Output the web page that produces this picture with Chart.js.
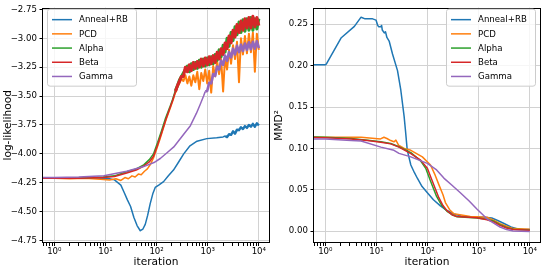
<!DOCTYPE html>
<html>
<head>
<meta charset="utf-8">
<script src="https://cdn.jsdelivr.net/npm/chart.js@4.4.0/dist/chart.umd.min.js"></script>
<style>
  body { margin: 0; background: #fff; }
  .wrap { display: flex; width: 542px; height: 270px; }
  .panel { position: relative; width: 271px; height: 270px; }
</style>
</head>
<body>
<div class="wrap">
  <div class="panel"><canvas id="llChart"></canvas></div>
  <div class="panel"><canvas id="mmdChart"></canvas></div>
</div>
<script>
const seriesNames = ['Anneal+RB', 'PCD', 'Alpha', 'Beta', 'Gamma'];
const seriesColors = ['#1f77b4', '#ff7f0e', '#2ca02c', '#d62728', '#9467bd'];

const xMajorTicks = [1, 10, 100, 1000, 10000];
const xTickLabels = ['10⁰', '10¹', '10²', '10³', '10⁴'];
const llTicks = [-4.75, -4.5, -4.25, -4, -3.75, -3.5, -3.25, -3, -2.75];
const mmdTicks = [0, 0.05, 0.1, 0.15, 0.2, 0.25];

// iterations where the log-likelihood curves turn noisy, shared by the tails below
const noisyIters = [234, 256, 280, 306, 334, 366, 400, 437, 478, 523, 572, 625, 684, 748, 818,
  894, 978, 1069, 1170, 1279, 1398, 1529, 1672, 1829, 2000, 2187, 2391, 2615, 2860, 3127,
  3420, 3740, 4090, 4472, 4890, 5348, 5848, 6395, 6993, 7647, 8362, 9145, 10000];

// log-likelihood, smooth part as [iteration, value]
const llAnnealHead = [[0.3, -4.21], [1, -4.21], [3, -4.21], [8, -4.21], [12, -4.215], [15, -4.225],
  [20, -4.27], [23, -4.33], [27, -4.40], [31, -4.455], [36, -4.55], [41.5, -4.62], [48, -4.665],
  [54, -4.65], [60, -4.61], [67, -4.53], [75, -4.43], [85, -4.34], [94, -4.29], [110, -4.27],
  [137, -4.24], [170, -4.19], [214, -4.14], [270, -4.07], [339, -4.0], [450, -3.93], [617, -3.89],
  [960, -3.868], [1500, -3.86], [2000, -3.853]];
const llPcdHead = [[0.3, -4.21], [1, -4.21], [2, -4.215], [4, -4.21], [8, -4.22], [12, -4.225],
  [16, -4.215], [20, -4.23], [24, -4.205], [28, -4.215], [33, -4.19], [38, -4.2], [44, -4.175],
  [50, -4.18], [58, -4.15], [66, -4.13], [76, -4.09], [88, -4.03], [100, -3.96], [115, -3.88],
  [135, -3.78], [160, -3.68], [190, -3.59], [215, -3.52]];
const llAlphaHead = [[0.3, -4.21], [1, -4.21], [3, -4.21], [9, -4.2], [15, -4.19], [26, -4.155],
  [40, -4.13], [56, -4.095], [72, -4.05], [87, -4.0], [105, -3.9], [125, -3.8], [150, -3.69],
  [180, -3.6], [205, -3.53]];
const llBetaHead = [[0.3, -4.21], [1, -4.21], [3, -4.21], [9, -4.205], [15, -4.195], [26, -4.165],
  [40, -4.14], [56, -4.105], [72, -4.07], [87, -4.02], [105, -3.92], [125, -3.82], [150, -3.71],
  [180, -3.61], [205, -3.54]];
const llGammaHead = [[0.3, -4.205], [1, -4.205], [3, -4.2], [9.3, -4.19], [26, -4.15], [56, -4.11],
  [89, -4.075], [118, -4.04], [160, -3.99], [217, -3.94], [300, -3.86], [458, -3.756], [600, -3.65],
  [715, -3.57], [830, -3.50]];

// log-likelihood, noisy part (values on the last noisyIters)
const llAnnealTail = [-3.845, -3.855, -3.83, -3.835, -3.805, -3.825, -3.79, -3.795, -3.77, -3.785,
  -3.76, -3.775, -3.75, -3.765, -3.74, -3.765, -3.735, -3.755];
const llPcdTail = [-3.47, -3.42, -3.39, -3.35, -3.37, -3.32, -3.39, -3.33, -3.41, -3.32, -3.38, -3.29,
  -3.44, -3.30, -3.37, -3.27, -3.39, -3.28, -3.47, -3.24, -3.33, -3.20, -3.31, -3.18, -3.46, -3.16,
  -3.27, -3.10, -3.22, -3.06, -3.18, -3.03, -3.38, -3.00, -3.14, -2.98, -3.13, -2.96, -3.12, -2.95,
  -3.29, -2.96, -3.10];
const llAlphaTail = [-3.45, -3.41, -3.36, -3.33, -3.30, -3.27, -3.24, -3.29, -3.22, -3.27, -3.21, -3.26,
  -3.19, -3.25, -3.18, -3.24, -3.17, -3.23, -3.16, -3.22, -3.14, -3.19, -3.10, -3.16, -3.06, -3.12,
  -3.00, -3.07, -2.95, -3.02, -2.90, -2.97, -2.86, -2.95, -2.84, -2.94, -2.83, -2.93, -2.82, -2.93,
  -2.83, -2.92, -2.83];
const llBetaTail = [-3.46, -3.41, -3.37, -3.33, -3.33, -3.25, -3.29, -3.23, -3.28, -3.21, -3.26, -3.20,
  -3.25, -3.18, -3.24, -3.17, -3.23, -3.16, -3.22, -3.15, -3.21, -3.12, -3.18, -3.09, -3.14, -3.04,
  -3.09, -2.98, -3.04, -2.93, -2.99, -2.88, -2.95, -2.85, -2.93, -2.83, -2.91, -2.82, -2.91, -2.81,
  -2.90, -2.82, -2.89];
const llGammaTail = [-3.46, -3.455, -3.385, -3.39, -3.31, -3.325, -3.245, -3.27, -3.195, -3.23, -3.15,
  -3.195, -3.12, -3.165, -3.09, -3.14, -3.065, -3.12, -3.055, -3.11, -3.045, -3.10, -3.035, -3.095,
  -3.03, -3.09, -3.025, -3.085];

// MMD^2 as [iteration, value]
const mmdAnneal = [[0.3, 0.201], [1.0, 0.201], [1.05, 0.202], [2.05, 0.2337], [3.7, 0.2474], [5.0, 0.2585],
  [6, 0.2565], [8.4, 0.2565], [9.8, 0.255], [10.5, 0.249], [11, 0.247], [12.2, 0.247], [12.6, 0.2485],
  [13, 0.243], [14.2, 0.2396], [15, 0.241], [16, 0.234], [17.7, 0.2297], [20.6, 0.214], [25.8, 0.194],
  [29.9, 0.1706], [34.7, 0.139], [37, 0.121], [40, 0.098], [47, 0.08], [55, 0.071], [63, 0.064],
  [78, 0.054], [99, 0.0465], [130, 0.038], [178, 0.0307], [240, 0.025], [324, 0.021], [450, 0.0185],
  [715, 0.0169], [1290, 0.0169], [1800, 0.016], [2350, 0.013], [3200, 0.009], [4270, 0.0051],
  [6000, 0.0025], [10000, 0.002]];
const mmdPcd = [[0.3, 0.1135], [1, 0.1135], [5, 0.1135], [12, 0.1115], [14, 0.1135], [16, 0.112],
  [19, 0.1095], [22, 0.108], [24, 0.11], [27, 0.104], [35, 0.1], [47, 0.0977], [79, 0.0898],
  [114, 0.08], [140, 0.068], [166, 0.0563], [200, 0.044], [223, 0.0346], [270, 0.026], [326, 0.021],
  [684, 0.0177], [1450, 0.0169], [2000, 0.013], [2620, 0.0091], [3500, 0.006], [4730, 0.0032],
  [10000, 0.0025]];
const mmdAlpha = [[0.3, 0.114], [1, 0.1135], [3.2, 0.112], [6.7, 0.110], [12.2, 0.108], [19, 0.106],
  [27.6, 0.102], [47, 0.095], [73, 0.085], [92, 0.076], [115, 0.06], [150, 0.042], [190, 0.031],
  [240, 0.024], [300, 0.02], [378, 0.0175], [920, 0.016], [1450, 0.0145], [2000, 0.012],
  [2620, 0.008], [3500, 0.0045], [4730, 0.0025], [10000, 0.0015]];
const mmdBeta = [[0.3, 0.1135], [1, 0.113], [3.2, 0.1115], [6.7, 0.1095], [12.2, 0.1076], [19, 0.1055],
  [27.6, 0.1016], [47, 0.0937], [73, 0.0859], [99, 0.076], [124, 0.0603], [166, 0.0405], [200, 0.031],
  [240, 0.0248], [300, 0.02], [378, 0.0177], [920, 0.0162], [1450, 0.0138], [2000, 0.011],
  [2620, 0.0071], [3500, 0.004], [4730, 0.002], [10000, 0.0012]];
const mmdGamma = [[0.3, 0.1115], [1, 0.1115], [3.2, 0.1095], [5, 0.109], [12.2, 0.1016], [22, 0.0977],
  [27.6, 0.094], [47, 0.0898], [99, 0.0819], [150, 0.074], [208, 0.0642], [300, 0.0555], [437, 0.0465],
  [650, 0.0365], [920, 0.0268], [1450, 0.015], [2000, 0.0095], [2620, 0.0051], [3500, 0.002],
  [4730, 0.0004], [10000, -0.0004]];

const FONT = 'DejaVu Sans';
const gridColor = '#d2d2d2';
// line width used on the noisy stretch of each series
const tailWidths = [2.4, 2.0, 3.0, 3.0, 2.6];

function toPoints(head, tail) {
  const pts = head.map(p => ({ x: p[0], y: p[1] }));
  if (tail) {
    const its = noisyIters.slice(noisyIters.length - tail.length);
    tail.forEach((v, i) => pts.push({ x: its[i], y: v }));
  }
  return pts;
}

function makeDatasets(list, tails) {
  return list.map((data, i) => {
    const tailStart = tails && tails[i] ? noisyIters[noisyIters.length - tails[i].length] : null;
    return {
      label: seriesNames[i],
      data: data,
      borderColor: seriesColors[i],
      backgroundColor: seriesColors[i],
      borderWidth: 1.5,
      borderJoinStyle: 'round',
      pointRadius: 0,
      tension: 0,
      clip: 0,
      order: 5 - i,
      segment: {
        borderWidth: c => (tailStart && c.p0.parsed.x >= tailStart ? tailWidths[i] : undefined)
      }
    };
  });
}

// box around the plot area (matplotlib spines)
const frame = {
  id: 'frame',
  afterDatasetsDraw(chart) {
    const a = chart.chartArea;
    const ctx = chart.ctx;
    ctx.save();
    ctx.strokeStyle = '#000';
    ctx.lineWidth = 1;
    ctx.strokeRect(Math.round(a.left) - 0.5, Math.round(a.top) + 0.5,
      Math.round(a.right - a.left) + 1, Math.round(a.bottom - a.top) - 1);
    ctx.restore();
  }
};

// legend drawn inside the plot area, upper left / upper right
const boxLegend = {
  id: 'boxLegend',
  afterDraw(chart, args, opts) {
    const a = chart.chartArea;
    const ctx = chart.ctx;
    const w = 89, h = 77;
    const x = opts.side === 'left' ? a.left + 4 : a.right - 5 - w;
    const y = a.top + 1;
    ctx.save();
    ctx.beginPath();
    ctx.roundRect(x + 0.5, y + 0.5, w, h, 2.5);
    ctx.fillStyle = 'rgba(255,255,255,0.8)';
    ctx.fill();
    ctx.strokeStyle = '#cccccc';
    ctx.lineWidth = 1;
    ctx.stroke();
    ctx.font = '8.6px "' + FONT + '"';
    ctx.textBaseline = 'middle';
    ctx.textAlign = 'left';
    seriesNames.forEach((name, i) => {
      const ry = y + 11 + i * 14.2;
      ctx.strokeStyle = seriesColors[i];
      ctx.lineWidth = 1.5;
      ctx.beginPath();
      ctx.moveTo(x + 5, ry);
      ctx.lineTo(x + 25, ry);
      ctx.stroke();
      ctx.fillStyle = '#000';
      ctx.fillText(name, x + 32, ry + 0.5);
    });
    ctx.restore();
  }
};

function xScale() {
  return {
    type: 'logarithmic',
    min: 0.63,
    max: 15800,
    afterBuildTicks(scale) {
      const vals = [];
      [0.1].concat(xMajorTicks).forEach(m => {
        for (let k = 1; k < 10; k++) vals.push(m * k);
      });
      scale.ticks = vals.filter(v => v >= scale.min && v <= scale.max)
        .map(v => ({ value: v, major: xMajorTicks.includes(v) }));
    },
    afterFit(scale) { scale.height = 27; },
    border: { display: false },
    grid: {
      color: c => (c.tick && xMajorTicks.includes(c.tick.value) ? gridColor : 'rgba(0,0,0,0)'),
      tickColor: '#000',
      tickLength: 3,
      lineWidth: 1
    },
    ticks: {
      autoSkip: false,
      maxRotation: 0,
      padding: 1,
      color: '#000',
      font: { family: FONT, size: 8.6 },
      callback: v => {
        const i = xMajorTicks.indexOf(v);
        return i >= 0 ? xTickLabels[i] : '';
      }
    },
    title: {
      display: true,
      text: 'iteration',
      color: '#000',
      font: { family: FONT, size: 10.6, lineHeight: 1.2 },
      padding: { top: 0, bottom: 1.3 }
    }
  };
}

function yScale(min, max, ticks, fmt, label) {
  return {
    type: 'linear',
    min: min,
    max: max,
    afterBuildTicks(scale) { scale.ticks = ticks.map(v => ({ value: v })); },
    afterFit(scale) { scale.width = 43; },
    border: { display: false },
    grid: { color: gridColor, tickColor: '#000', tickLength: 3.5, lineWidth: 1 },
    ticks: {
      padding: 2.5,
      color: '#000',
      font: { family: FONT, size: 8.6 },
      callback: fmt
    },
    title: {
      display: true,
      text: label,
      color: '#000',
      font: { family: FONT, size: 10.6, lineHeight: 1.1 },
      padding: { top: 2.5, bottom: 0 }
    }
  };
}

function makeOptions(yopts, side) {
  return {
    responsive: true,
    maintainAspectRatio: false,
    devicePixelRatio: 1,
    animation: false,
    layout: { padding: { top: 2, right: 2, left: 0, bottom: 0 } },
    plugins: {
      legend: { display: false },
      tooltip: { enabled: false },
      boxLegend: { side: side }
    },
    scales: { x: xScale(), y: yopts }
  };
}

const llTails = [llAnnealTail, llPcdTail, llAlphaTail, llBetaTail, llGammaTail];
const llData = [
  toPoints(llAnnealHead, llAnnealTail),
  toPoints(llPcdHead, llPcdTail),
  toPoints(llAlphaHead, llAlphaTail),
  toPoints(llBetaHead, llBetaTail),
  toPoints(llGammaHead, llGammaTail)
];
const mmdData = [mmdAnneal, mmdPcd, mmdAlpha, mmdBeta, mmdGamma].map(s => toPoints(s));

new Chart(document.getElementById('llChart'), {
  type: 'line',
  data: { datasets: makeDatasets(llData, llTails) },
  options: makeOptions(
    yScale(-4.771, -2.735, llTicks, v => (v < 0 ? '\u2212' : '') + Math.abs(v).toFixed(2), 'log-likelihood'),
    'left'),
  plugins: [frame, boxLegend]
});

new Chart(document.getElementById('mmdChart'), {
  type: 'line',
  data: { datasets: makeDatasets(mmdData, null) },
  options: makeOptions(
    yScale(-0.0142, 0.270, mmdTicks, v => v.toFixed(2), 'MMD²'),
    'right'),
  plugins: [frame, boxLegend]
});
</script>
</body>
</html>
